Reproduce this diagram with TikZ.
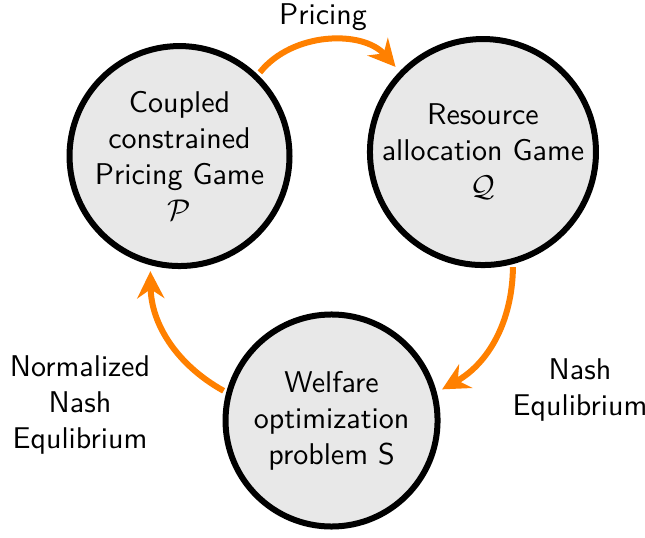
\documentclass[tikz,border=0pt]{standalone}
\usetikzlibrary{arrows.meta}

\begin{document}
\begin{tikzpicture}[
    font=\sffamily,
    game/.style={circle, draw=black, line width=2pt, fill=black!9, align=center, inner sep=0pt},
    flow/.style={draw=orange, line width=2pt, shorten <=1pt, shorten >=2pt,
      -{Stealth[length=9pt,width=9pt,inset=3pt]}}
  ]
  \useasboundingbox (0,0) rectangle (7.556,-6.291);
  \def\bend{30} % bend of the lower two arrows

  % the three problems
  \node[game, minimum size=2.577cm] (P) at (2.103,-1.828) {Coupled\\constrained\\Pricing Game\\$\mathcal{P}$};
  \node[game, minimum size=2.648cm] (Q) at (5.658,-1.781) {Resource\\allocation Game\\$\mathcal{Q}$};
  \node[game, minimum size=2.484cm] (S) at (3.884,-4.926) {Welfare\\optimization\\problem S};

  % labels of the arrows
  \node (pricing) at (3.784,-0.2) {Pricing};
  \node[align=center] (nash) at (6.795,-4.569) {Nash\\Equlibrium};
  \node[align=center] (normnash) at (0.937,-4.745) {Normalized\\Nash\\Equlibrium};

  \draw[flow] (P.46) to[bend left=50] (Q.136);
  \draw[flow] (Q.-75) to[bend left=\bend] (S.15);
  \draw[flow] (S.165) to[bend left=\bend] (P.-105);
\end{tikzpicture}
\end{document}
